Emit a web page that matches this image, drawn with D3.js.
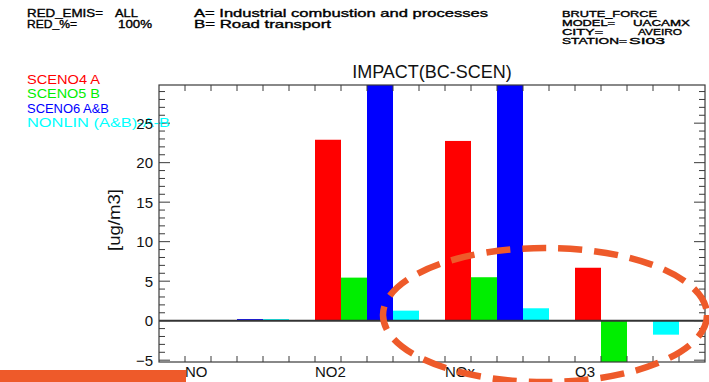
<!DOCTYPE html>
<html><head><meta charset="utf-8">
<script src="https://cdn.jsdelivr.net/npm/d3@7"></script>
<style>body{margin:0;background:#fff}svg{display:block}</style>
</head><body>
<script>
const categories = ["NO", "NO2", "NOx", "O3"];
const seriesNames = ["SCENO4 A", "SCENO5 B", "SCENO6 A&B", "NONLIN (A&B)-A-B"];
const seriesColors = ["#ff0000", "#00ee00", "#0000ff", "#00ffff"];
const scen04 = [0, 22.9, 22.75, 6.7];
const scen05 = [0, 5.45, 5.5, -5.8];
const scen06 = [0.2, 31, 31, 0];
const nonlin = [0.2, 1.27, 1.57, -1.77];
const yMajorTicks = [-5, 0, 5, 10, 15, 20, 25];
const title = "IMPACT(BC-SCEN)";
const yLabel = "[ug/m3]";

const W = 709, H = 382;
const svg = d3.select("body").append("svg").attr("width", W).attr("height", H);
svg.append("rect").attr("width", W).attr("height", H).attr("fill", "#fff");

const L = 159, R = 705, T = 85, B = 362;
const x = d3.scaleLinear().domain([0, 21]).range([L, R]);
const y = d3.scaleLinear().domain([-5.23, 29.83]).range([B, T]);
const axisCol = "#3a3a3a";
const font = "Liberation Sans, Arial, sans-serif";

// header text
const hdrLeft = [
  ["RED_EMIS=", 27, 17, 76], ["ALL", 115, 17, 23],
  ["RED_%=", 27, 27.5, 50], ["100%", 118, 27.5, 34],
  ["A= Industrial combustion and processes", 194, 17, 294],
  ["B= Road transport", 194, 27.5, 137]
];
const hdrRight = [
  ["BRUTE_FORCE", 562, 16.5, 95],
  ["MODEL=", 562, 25.7, 53], ["UACAMX", 633, 25.7, 57],
  ["CITY=", 562, 34.9, 41], ["AVEIRO", 638, 34.9, 44],
  ["STATION=", 562, 44.1, 65], ["SI03", 629, 44.1, 36]
];
function hdr(data, size) {
  svg.append("g").selectAll("text").data(data).join("text")
    .attr("x", d => d[1]).attr("y", d => d[2])
    .attr("textLength", d => d[3]).attr("lengthAdjust", "spacingAndGlyphs")
    .attr("font-family", font).attr("font-size", size)
    .attr("fill", "#000").attr("stroke", "#000").attr("stroke-width", 0.35)
    .text(d => d[0]);
}
hdr(hdrLeft, 11);
hdr(hdrRight, 8.6);

// clip
svg.append("clipPath").attr("id", "clip").append("rect")
  .attr("x", L).attr("y", T).attr("width", R - L).attr("height", B - T);

// bars
const series = [scen04, scen05, scen06, nonlin];
const bars = [];
categories.forEach((c, i) => series.forEach((s, j) => bars.push({i, j, v: s[i]})));
svg.append("g").attr("clip-path", "url(#clip)").selectAll("rect").data(bars).join("rect")
  .attr("x", d => x(1 + 5 * d.i + d.j))
  .attr("width", d => x(2 + 5 * d.i + d.j) - x(1 + 5 * d.i + d.j))
  .attr("y", d => y(Math.max(0, d.v)))
  .attr("height", d => Math.abs(y(d.v) - y(0)))
  .attr("fill", d => seriesColors[d.j]);

// zero line
svg.append("line").attr("x1", L).attr("x2", R).attr("y1", y(0)).attr("y2", y(0))
  .attr("stroke", "#333").attr("stroke-width", 2);

// frame
svg.append("rect").attr("x", L).attr("y", T).attr("width", R - L).attr("height", B - T)
  .attr("fill", "none").attr("stroke", axisCol).attr("stroke-width", 1.2);

// y ticks
const minor = d3.range(-5, 30, 1);
const tg = svg.append("g").attr("stroke", axisCol).attr("stroke-width", 1);
minor.forEach(v => {
  const len = yMajorTicks.includes(v) ? 11 : 6;
  tg.append("line").attr("x1", L).attr("x2", L + len).attr("y1", y(v)).attr("y2", y(v));
  tg.append("line").attr("x1", R).attr("x2", R - len).attr("y1", y(v)).attr("y2", y(v));
});
// x ticks
d3.range(1, 21).forEach(k => {
  tg.append("line").attr("x1", x(k)).attr("x2", x(k)).attr("y1", B).attr("y2", B - 6);
  tg.append("line").attr("x1", x(k)).attr("x2", x(k)).attr("y1", T).attr("y2", T + 6);
});

// legend
svg.append("g").selectAll("text").data(seriesNames).join("text")
  .attr("x", 27).attr("y", (d, i) => 84 + i * 14.3)
  .attr("textLength", (d, i) => [73, 73, 82, 143][i]).attr("lengthAdjust", "spacingAndGlyphs")
  .attr("font-family", font).attr("font-size", 13.5)
  .attr("fill", (d, i) => seriesColors[i]).text(d => d);

// y tick labels
svg.append("g").selectAll("text").data(yMajorTicks).join("text")
  .attr("x", 153).attr("y", d => y(d) + 5.5).attr("text-anchor", "end")
  .attr("font-family", font).attr("font-size", 15)
  .attr("fill", "#111").text(d => d < 0 ? "\u2212" + Math.abs(d) : d);

// x labels
svg.append("g").selectAll("text").data(categories).join("text")
  .attr("x", (d, i) => x(1 + 5 * i)).attr("y", 377)
  .attr("font-family", font).attr("font-size", 15)
  .attr("fill", "#111").text(d => d);

// title
svg.append("text").attr("x", (L + R) / 2).attr("y", 78).attr("text-anchor", "middle")
  .attr("font-family", font).attr("font-size", 18)
  .attr("fill", "#111").text(title);

// y label
svg.append("text").attr("transform", `translate(120,220) rotate(-90)`)
  .attr("text-anchor", "middle").attr("textLength", 62).attr("lengthAdjust", "spacingAndGlyphs")
  .attr("font-family", font).attr("font-size", 16)
  .attr("fill", "#111").text(yLabel);

// annotations
const orange = "#ee5a2a";
svg.append("ellipse").attr("cx", 545).attr("cy", 315).attr("rx", 162).attr("ry", 67)
  .attr("fill", "none").attr("stroke", orange).attr("stroke-width", 6.5)
  .attr("stroke-dasharray", "24,12");
svg.append("rect").attr("x", 0).attr("y", 370).attr("width", 186).attr("height", 12).attr("fill", orange);
</script>
</body></html>
